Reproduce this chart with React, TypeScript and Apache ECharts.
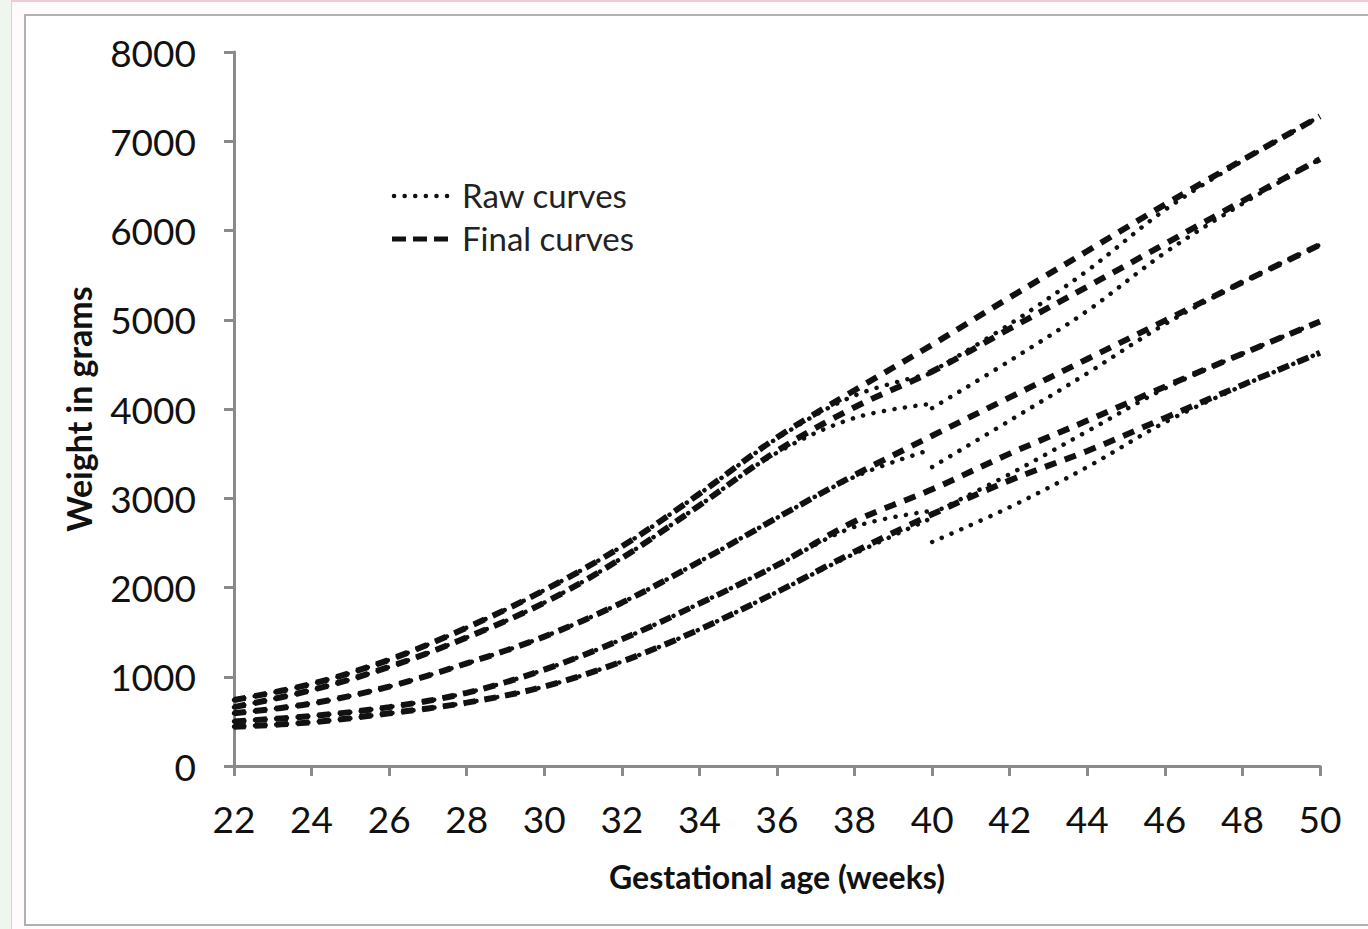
import React, { useEffect, useRef } from "react";
import * as echarts from "echarts";

// Gestational age (weeks)
const weeks = [22, 24, 26, 28, 30, 32, 34, 36, 38, 40, 42, 44, 46, 48, 50];
const preWeeks = [22, 24, 26, 28, 30, 32, 34, 36, 38, 40];
const postWeeks = [40, 42, 44, 46, 48, 50];

// Final curves (grams)
const final1 = [740, 920, 1190, 1550, 1970, 2460, 3050, 3680, 4210, 4720, 5250, 5770, 6290, 6790, 7280];
const final2 = [660, 850, 1110, 1440, 1830, 2330, 2920, 3530, 4020, 4420, 4900, 5370, 5850, 6330, 6800];
const final3 = [590, 700, 890, 1150, 1450, 1830, 2290, 2780, 3260, 3700, 4130, 4560, 4990, 5420, 5840];
const final4 = [500, 560, 660, 820, 1080, 1420, 1820, 2250, 2740, 3100, 3500, 3870, 4250, 4620, 4980];
const final5 = [440, 490, 590, 710, 890, 1170, 1530, 1950, 2400, 2820, 3200, 3530, 3900, 4270, 4630];

// Raw curves, preterm part (22-40 weeks)
const rawPre1 = [740, 920, 1190, 1550, 1970, 2460, 3050, 3670, 4150, 4400];
const rawPre2 = [660, 850, 1110, 1440, 1830, 2330, 2920, 3510, 3900, 4060];
const rawPre3 = [590, 700, 890, 1150, 1450, 1830, 2290, 2780, 3240, 3550];
const rawPre4 = [500, 560, 660, 820, 1080, 1420, 1820, 2250, 2680, 2860];
const rawPre5 = [440, 490, 590, 710, 890, 1170, 1530, 1950, 2380, 2780];

// Raw curves, post-term part (40-50 weeks)
const rawPost1 = [4420, 4950, 5550, 6230, 6780, 7280];
const rawPost2 = [4010, 4540, 5100, 5750, 6300, 6800];
const rawPost3 = [3350, 3870, 4400, 4950, 5420, 5840];
const rawPost4 = [2830, 3270, 3750, 4230, 4620, 4980];
const rawPost5 = [2510, 2900, 3350, 3850, 4260, 4630];

const finals = [final1, final2, final3, final4, final5];
const rawPres = [rawPre1, rawPre2, rawPre3, rawPre4, rawPre5];
const rawPosts = [rawPost1, rawPost2, rawPost3, rawPost4, rawPost5];

const FONT = "Lato, 'Open Sans', sans-serif";
const AXIS_GRAY = "#8a8a8a";

function pairs(xs: number[], ys: number[]) {
  return xs.map((x, i) => [x, ys[i]]);
}

export default function App() {
  const ref = useRef<HTMLDivElement>(null);

  useEffect(() => {
    if (!ref.current) return;
    const chart = echarts.init(ref.current, undefined, { renderer: "svg" });

    const dotted = {
      color: "#111",
      width: 4.5,
      type: [0.1, 10.5],
      cap: "round",
    };
    const dashed = {
      color: "#111",
      width: 6,
      type: [12, 9],
      cap: "butt",
    };

    const series: any[] = [];
    rawPres.forEach((arr) =>
      series.push({
        type: "line",
        name: "Raw curves",
        data: pairs(preWeeks, arr),
        smooth: 0.35,
        symbol: "none",
        lineStyle: dotted,
        silent: true,
      })
    );
    rawPosts.forEach((arr) =>
      series.push({
        type: "line",
        name: "Raw curves",
        data: pairs(postWeeks, arr),
        smooth: 0.35,
        symbol: "none",
        lineStyle: dotted,
        silent: true,
      })
    );
    finals.forEach((arr) =>
      series.push({
        type: "line",
        name: "Final curves",
        data: pairs(weeks, arr),
        smooth: 0.35,
        symbol: "none",
        lineStyle: dashed,
        silent: true,
      })
    );

    chart.setOption({
      animation: false,
      backgroundColor: "transparent",
      grid: { left: 234, right: 48, top: 52, bottom: 163 },
      xAxis: {
        type: "value",
        min: 22,
        max: 50,
        interval: 2,
        name: "Gestational age (weeks)",
        nameLocation: "middle",
        nameGap: 94,
        nameTextStyle: { fontFamily: FONT, fontWeight: "bold", fontSize: 32, color: "#111" },
        axisLine: { show: true, onZero: false, lineStyle: { color: AXIS_GRAY, width: 3 } },
        axisTick: { show: true, length: 10, lineStyle: { color: AXIS_GRAY, width: 3 } },
        axisLabel: { fontFamily: FONT, fontSize: 37, color: "#111", margin: 34 },
        splitLine: { show: false },
      },
      yAxis: {
        type: "value",
        min: 0,
        max: 8000,
        interval: 1000,
        name: "Weight in grams",
        nameLocation: "middle",
        nameGap: 139,
        nameRotate: 90,
        nameTextStyle: { fontFamily: FONT, fontWeight: "bold", fontSize: 34, color: "#111" },
        axisLine: { show: true, lineStyle: { color: AXIS_GRAY, width: 3 } },
        axisTick: { show: true, length: 10, lineStyle: { color: AXIS_GRAY, width: 3 } },
        axisLabel: {
          fontFamily: FONT,
          fontSize: 37,
          color: "#111",
          margin: 38,
          formatter: (v: number) => String(v),
        },
        splitLine: { show: false },
      },
      graphic: [
        {
          type: "line",
          shape: { x1: 394, y1: 196, x2: 452, y2: 196 },
          style: { stroke: "#111", lineWidth: 4.5, lineDash: [0.1, 10.5], lineCap: "round" },
        },
        {
          type: "text",
          x: 462,
          y: 195,
          style: { text: "Raw curves", fontFamily: FONT, fontSize: 33, fill: "#222", verticalAlign: "middle" },
        },
        {
          type: "line",
          shape: { x1: 392, y1: 239, x2: 452, y2: 239 },
          style: { stroke: "#111", lineWidth: 5, lineDash: [14, 7] },
        },
        {
          type: "text",
          x: 462,
          y: 238,
          style: { text: "Final curves", fontFamily: FONT, fontSize: 33, fill: "#222", verticalAlign: "middle" },
        },
      ],
      series,
    });

    return () => chart.dispose();
  }, []);

  return (
    <div
      style={{
        position: "absolute",
        left: 0,
        top: 0,
        width: 1368,
        height: 929,
        background: "#eef6ee",
        overflow: "hidden",
      }}
    >
      <div
        style={{
          position: "absolute",
          left: 11,
          top: 0,
          width: 1357,
          height: 929,
          background: "#fffafb",
          borderLeft: "1px solid #f3c9d1",
          borderTop: "2px solid #f3c9d1",
          boxSizing: "border-box",
        }}
      />
      <div
        style={{
          position: "absolute",
          left: 24,
          top: 14,
          width: 1360,
          height: 912,
          background: "#ffffff",
          border: "2px solid #b0b0b0",
          boxSizing: "border-box",
        }}
      />
      <div ref={ref} style={{ position: "absolute", left: 0, top: 0, width: 1368, height: 929 }} />
    </div>
  );
}
